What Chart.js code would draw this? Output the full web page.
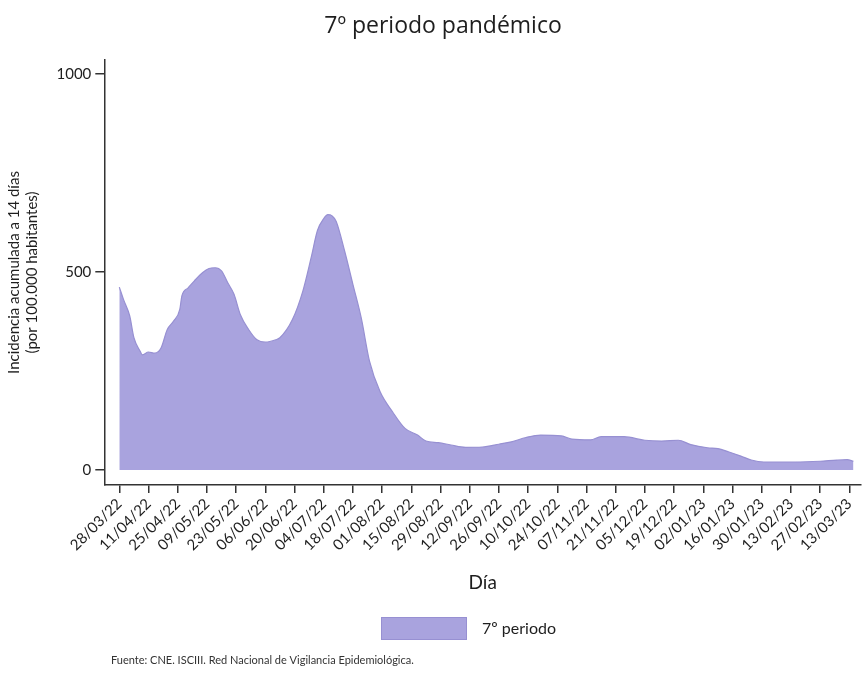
<!DOCTYPE html>
<html>
<head>
<meta charset="utf-8">
<script src="https://cdn.jsdelivr.net/npm/chart.js@4.4.0/dist/chart.umd.min.js"></script>
<style>
  html, body { margin: 0; padding: 0; background: #fff; }
  #wrap { width: 864px; height: 675px; }
</style>
</head>
<body>
<div id="wrap"><canvas id="incChart" width="864" height="675"></canvas></div>
<script>
// Days since 28/03/22 and the 14-day cumulative incidence
const days = [0, 2, 5, 7, 10, 11, 14, 17, 20, 23, 26, 29, 30, 33, 36, 40, 43, 46, 49, 52,
  55, 58, 62, 66, 70, 75, 77, 83, 88, 92, 95, 98, 100, 102, 104, 108, 112, 116, 120, 125,
  131, 137, 143, 147, 153, 159, 166, 174, 182, 188, 195, 202, 212, 217, 226, 231, 242, 252,
  260, 268, 274, 282, 287, 292, 298, 303, 309, 324, 336, 344, 349, 352];
const incidence = [462, 431, 389, 334, 300, 291, 298, 295, 308, 355, 376, 406, 440, 460, 478, 499, 509, 511, 503, 473,
  444, 393, 355, 329, 323, 329, 334, 380, 452, 537, 605, 635, 645, 642, 628, 554, 469, 384, 274, 198,
  147, 105, 88, 73, 69, 63, 57, 58, 65, 71, 82, 88, 86, 78, 76, 84, 84, 75,
  73, 75, 64, 56, 54, 46, 35, 25, 20, 20, 22, 25, 26, 22];

// x tick labels, one every 14 days
const tickLabels = ['28/03/22', '11/04/22', '25/04/22', '09/05/22', '23/05/22', '06/06/22', '20/06/22',
  '04/07/22', '18/07/22', '01/08/22', '15/08/22', '29/08/22', '12/09/22', '26/09/22', '10/10/22',
  '24/10/22', '07/11/22', '21/11/22', '05/12/22', '19/12/22', '02/01/23', '16/01/23', '30/01/23',
  '13/02/23', '27/02/23', '13/03/23'];
const yTicks = [0, 500, 1000];

const fillColor = '#a9a3de';
const lineColor = '#9790d2';
const textColor = '#1e1e1e';
const axisColor = '#333333';

// title, legend and source note drawn at their own spots
const extras = {
    id: 'extras',
    afterDraw(chart) {
        const ctx = chart.ctx;
        ctx.save();
        ctx.fillStyle = textColor;
        ctx.textBaseline = 'middle';
        ctx.textAlign = 'center';
        ctx.font = '23px "Open Sans"';
        ctx.fillText('7º periodo pandémico', 443, 26);

        ctx.fillStyle = fillColor;
        ctx.fillRect(381, 617, 86, 23);
        ctx.strokeStyle = lineColor;
        ctx.lineWidth = 1;
        ctx.strokeRect(381.5, 617.5, 85, 22);
        ctx.fillStyle = textColor;
        ctx.textAlign = 'left';
        ctx.font = '16px Lato';
        ctx.fillText(chart.data.datasets[0].label, 482, 629);

        ctx.font = '11px Lato';
        ctx.fillStyle = '#333';
        ctx.fillText('Fuente: CNE. ISCIII. Red Nacional de Vigilancia Epidemiológica.', 111, 660);
        ctx.restore();
    }
};

function createChart() {
    const ctx = document.getElementById('incChart').getContext('2d');
    new Chart(ctx, {
        type: 'line',
        data: {
            datasets: [{
                label: '7º periodo',
                data: days.map((d, i) => ({ x: d, y: incidence[i] })),
                fill: 'origin',
                backgroundColor: fillColor,
                borderColor: lineColor,
                borderWidth: 1.2,
                pointRadius: 0,
                cubicInterpolationMode: 'monotone'
            }]
        },
        options: {
            responsive: false,
            animation: false,
            devicePixelRatio: 1,
            layout: { padding: { top: 60, right: 0, bottom: 77, left: 2 } },
            plugins: {
                legend: { display: false },
                title: { display: false },
                tooltip: { enabled: false }
            },
            scales: {
                x: {
                    type: 'linear',
                    min: -7.2,
                    max: 355.7,
                    afterBuildTicks: (scale) => {
                        scale.ticks = tickLabels.map((_, i) => ({ value: i * 14 }));
                    },
                    grid: { drawOnChartArea: false, drawTicks: true, tickLength: 8, color: axisColor, lineWidth: 1.5 },
                    border: { display: true, color: axisColor, width: 1.5 },
                    ticks: {
                        autoSkip: false,
                        minRotation: 45,
                        maxRotation: 45,
                        padding: 2,
                        color: textColor,
                        font: { family: 'Lato', size: 15 },
                        callback: (v, i) => tickLabels[i]
                    },
                    title: {
                        display: true,
                        text: 'Día',
                        color: textColor,
                        font: { family: 'Lato', size: 19 },
                        padding: { top: 15, bottom: 4 }
                    }
                },
                y: {
                    min: -38,
                    max: 1036,
                    afterBuildTicks: (scale) => {
                        scale.ticks = yTicks.map(v => ({ value: v }));
                    },
                    grid: { drawOnChartArea: false, drawTicks: true, tickLength: 9, color: axisColor, lineWidth: 1.5 },
                    border: { display: true, color: axisColor, width: 1.5 },
                    ticks: {
                        padding: 4,
                        color: textColor,
                        font: { family: 'Lato', size: 15 },
                        callback: (v) => String(v)
                    },
                    title: {
                        display: true,
                        text: ['Incidencia acumulada a 14 días', '(por 100.000 habitantes)'],
                        color: textColor,
                        font: { family: 'Lato', size: 15, lineHeight: 1.15 },
                        padding: { top: 4, bottom: 12 }
                    }
                }
            }
        },
        plugins: [extras]
    });
}

document.addEventListener('DOMContentLoaded', createChart);
</script>
</body>
</html>
